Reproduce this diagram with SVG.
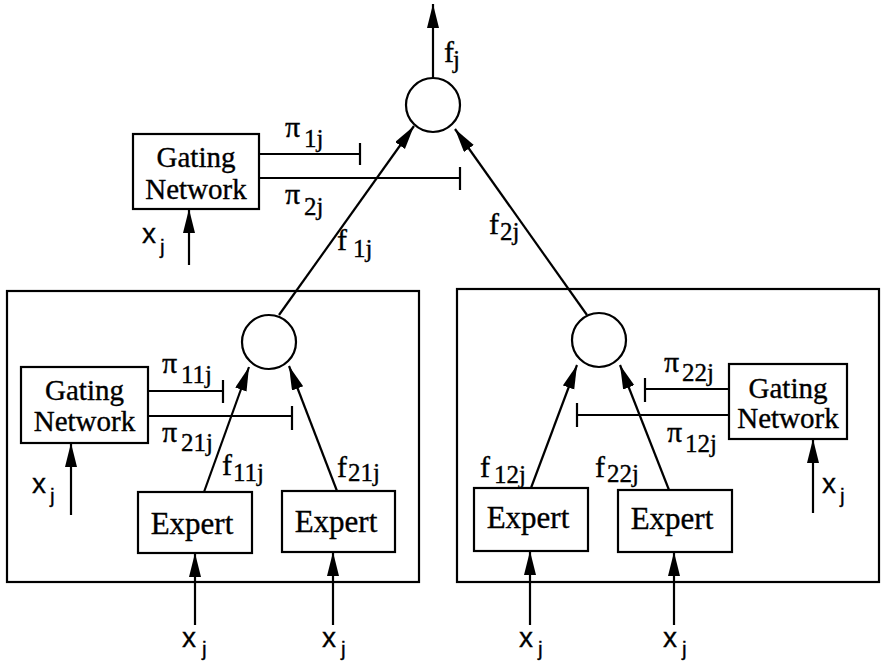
<svg xmlns="http://www.w3.org/2000/svg" width="882" height="662" viewBox="0 0 882 662">
<style>
  .box{fill:none;stroke:#000;stroke-width:2.2}
  .frame{fill:none;stroke:#000;stroke-width:2.2}
  .circ{fill:#fff;stroke:#000;stroke-width:2.2}
  .ln{fill:none;stroke:#000;stroke-width:2.2}
  .arr{fill:none;stroke:#000;stroke-width:2.2;marker-end:url(#ah)}
  .lbl{font-size:29px;text-anchor:middle}
  .exp{font-size:31px;text-anchor:middle}
  .m{font-size:30px}
  .s{font-size:25px}
  .xs{font-size:28px}
  .js{font-size:21px}
  .serif{font-family:'Liberation Serif','DejaVu Serif',serif;fill:#000;stroke:#000;stroke-width:0.35}
  .sans{font-family:'Liberation Sans','DejaVu Sans',sans-serif;fill:#000;stroke:#000;stroke-width:0.3}
</style>
<defs>
  <marker id="ah" markerUnits="userSpaceOnUse" markerWidth="26" markerHeight="14" refX="24" refY="6" orient="auto">
    <path d="M0,0 L24,6 L0,12 Z" fill="#000"/>
  </marker>
</defs>
<rect width="882" height="662" fill="#fff"/>

<g id="frame-left"><rect class="frame" x="7" y="291" width="412" height="291"/></g>
<g id="frame-right"><rect class="frame" x="457" y="289" width="422" height="293"/></g>

<g id="connectors">
  <line class="arr" x1="433" y1="78" x2="433" y2="4"/>
  <line class="arr" x1="279" y1="315" x2="414" y2="126"/>
  <line class="arr" x1="587" y1="315" x2="455" y2="129"/>
  <line class="arr" x1="204" y1="492" x2="249" y2="367"/>
  <line class="arr" x1="337" y1="491" x2="289" y2="366"/>
  <line class="arr" x1="531" y1="488" x2="577" y2="365"/>
  <line class="arr" x1="669" y1="490" x2="620" y2="365"/>
  <line class="arr" x1="195" y1="625" x2="195" y2="553"/>
  <line class="arr" x1="333" y1="625" x2="333" y2="552"/>
  <line class="arr" x1="530" y1="625" x2="530" y2="551"/>
  <line class="arr" x1="674" y1="625" x2="674" y2="552"/>
  <line class="arr" x1="189" y1="265" x2="189" y2="209"/>
  <line class="arr" x1="71" y1="515" x2="71" y2="443"/>
  <line class="arr" x1="813" y1="513" x2="813" y2="439"/>
  <path class="ln" d="M259,154 H360 M360,143 V165"/>
  <path class="ln" d="M259,178 H460 M460,167 V190"/>
  <path class="ln" d="M148,391 H223 M223,380 V403"/>
  <path class="ln" d="M148,416 H292 M292,406 V430"/>
  <path class="ln" d="M729,389 H645 M645,378 V402"/>
  <path class="ln" d="M729,415 H577 M577,403 V427"/>
</g>

<g id="sum-top"><circle class="circ" cx="433" cy="105" r="27"/></g>
<g id="sum-left"><circle class="circ" cx="269" cy="342" r="27"/></g>
<g id="sum-right"><circle class="circ" cx="599" cy="340" r="27"/></g>

<g id="gate-top">
  <rect class="box" x="133" y="134" width="126" height="75"/>
  <text class="serif lbl" x="196" y="167">Gating</text>
  <text class="serif lbl" x="196" y="199">Network</text>
</g>
<g id="gate-left">
  <rect class="box" x="21" y="367" width="127" height="76"/>
  <text class="serif lbl" x="84.5" y="400">Gating</text>
  <text class="serif lbl" x="84.5" y="431">Network</text>
</g>
<g id="gate-right">
  <rect class="box" x="729" y="364" width="118" height="75"/>
  <text class="serif lbl" x="788" y="398">Gating</text>
  <text class="serif lbl" x="788" y="428">Network</text>
</g>

<g id="expert-11">
  <rect class="box" x="138" y="492" width="114" height="61"/>
  <text class="serif exp" x="192" y="534">Expert</text>
</g>
<g id="expert-21">
  <rect class="box" x="282" y="491" width="113" height="61"/>
  <text class="serif exp" x="336" y="532">Expert</text>
</g>
<g id="expert-12">
  <rect class="box" x="474" y="488" width="114" height="63"/>
  <text class="serif exp" x="528" y="528">Expert</text>
</g>
<g id="expert-22">
  <rect class="box" x="618" y="490" width="114" height="62"/>
  <text class="serif exp" x="672" y="529">Expert</text>
</g>

<g id="labels">
  <text class="serif m" x="444" y="62">f</text><text class="serif s" x="453" y="68">j</text>
  <text class="serif m" x="285" y="137">π</text><text class="serif s" x="304" y="147">1j</text>
  <text class="serif m" x="285" y="204">π</text><text class="serif s" x="304" y="215">2j</text>
  <text class="serif m" x="337" y="250">f</text><text class="serif s" x="353" y="257">1j</text>
  <text class="serif m" x="489" y="234">f</text><text class="serif s" x="500" y="240">2j</text>
  <text class="serif m" x="162" y="373">π</text><text class="serif s" x="181" y="383">11j</text>
  <text class="serif m" x="162" y="442">π</text><text class="serif s" x="181" y="451">21j</text>
  <text class="serif m" x="664" y="372">π</text><text class="serif s" x="682" y="381">22j</text>
  <text class="serif m" x="667" y="442">π</text><text class="serif s" x="685" y="452">12j</text>
  <text class="serif m" x="222" y="475">f</text><text class="serif s" x="233" y="481">11j</text>
  <text class="serif m" x="337" y="477">f</text><text class="serif s" x="348" y="481">21j</text>
  <text class="serif m" x="480" y="477">f</text><text class="serif s" x="494" y="483">12j</text>
  <text class="serif m" x="595" y="477">f</text><text class="serif s" x="607" y="482">22j</text>
  <text class="sans xs" x="142" y="243">x</text><text class="sans js" x="160" y="254">j</text>
  <text class="sans xs" x="32" y="493">x</text><text class="sans js" x="50" y="503">j</text>
  <text class="sans xs" x="822" y="493">x</text><text class="sans js" x="840" y="503">j</text>
  <text class="sans xs" x="182" y="647">x</text><text class="sans js" x="202" y="656">j</text>
  <text class="sans xs" x="322" y="647">x</text><text class="sans js" x="341" y="656">j</text>
  <text class="sans xs" x="519" y="647">x</text><text class="sans js" x="538" y="656">j</text>
  <text class="sans xs" x="663" y="647">x</text><text class="sans js" x="682" y="656">j</text>
</g>
</svg>
